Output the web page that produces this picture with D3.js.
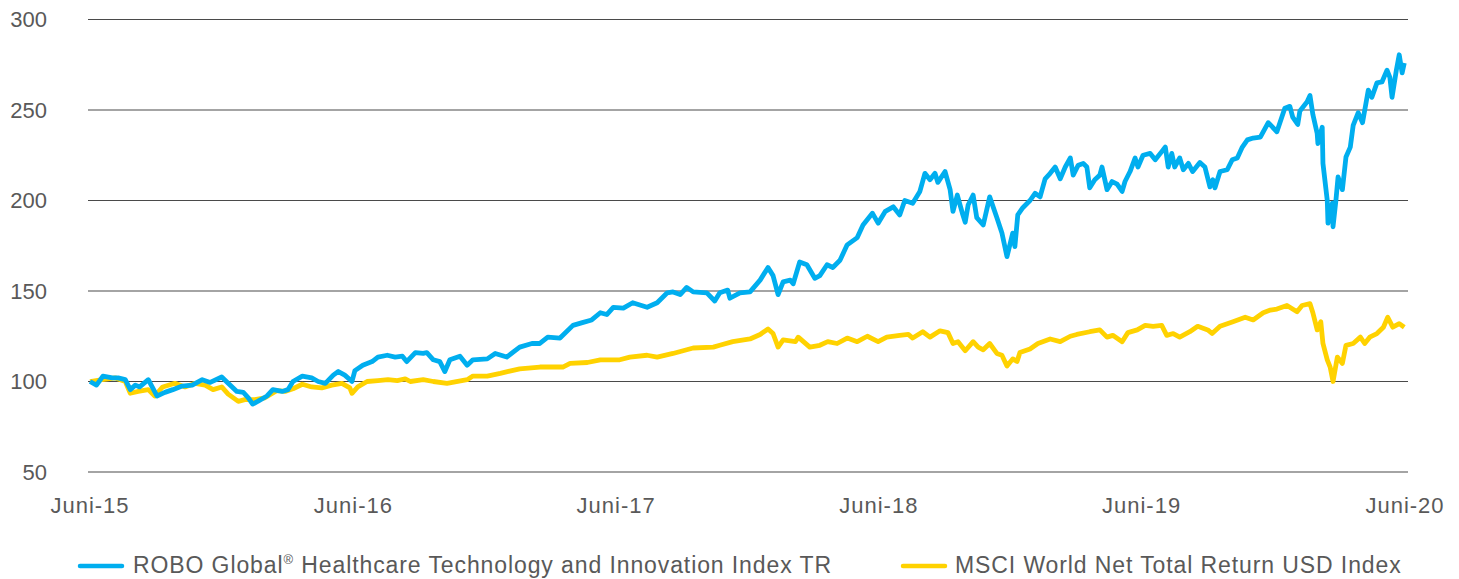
<!DOCTYPE html>
<html><head><meta charset="utf-8">
<script src="https://cdn.jsdelivr.net/npm/d3@7"></script>
<style>
html,body{margin:0;padding:0;background:#fff;}
svg{display:block;font-family:"Liberation Sans",Arial,sans-serif;}
</style></head><body>
<svg id="chart" width="1459" height="579"></svg>
<script>
// Days since 2015-06-01 and index values (start = 100)
const roboDays = [0,9,18,31,39,49,56,63,69,81,93,104,115,128,142,156,167,183,192,204,213,220,226,233,246,254,267,275,282,295,308,317,327,338,345,354,364,368,379,392,400,413,424,434,440,452,463,
468,477,486,493,500,514,524,532,552,563,579,597,614,625,636,653,671,684,697,709,718,727,741,754,774,788,802,810,820,829,838,857,868,875,886,889,903,917,931,942,949,956,963,973,977,986,996,1007,1014,1024,1032,1042,1052,1066,1074,1087,1095,1105,1116,1125,1132,1143,1153,1160,1167,1174,1178,1188,1195,1199,1205,1212,1216,1220,1227,1232,1241,1250,1260,1267,1274,1282,1285,1289,1296,1306,1313,1320,1327,1334,1341,1348,1355,1362,1366,1373,1380,1385,1389,1396,1403,1406,1413,1420,1427,1434,1438,1445,1452,1456,1463,1473,1480,1489,1494,1498,1503,1507,1514,1519,1526,1532,1542,1549,1556,1560,1563,1570,1580,1587,1594,1601,1608,1616,1626,1637,1649,1660,1667,1671,1678,1681,1691,1695,1699,1705,1706,1712,1713,1719,1720,1726,1727,1731,1734,1740,1745,1751,1755,1762,1768,1776,1781,1788,1795,1802,1806,1809,1815,1819,1823,1826];
const roboValues = [100,98,103,102,102,101,95.5,98,97,101,92,94,95.5,97.5,98,101,99.5,102.5,99,94.5,94,91,87.5,89,92,95.5,94.5,95.5,100,103,102,100,99,103.5,105.5,103.5,100,106,109,111,113.5,114.5,113.5,114,111,116,115.5,
116,112,111,105.5,112,114,109,112,112.5,115.5,113.5,119,121,121,124.5,124,131,132.5,134,138,137,141,140.5,143.5,141,143.5,149,149.5,148,152,149.5,149,144.5,149,150.5,146,149,149.5,156,163,158.5,148,155,156,154,166,164.5,157,158.5,164.5,163,167,175.5,179.5,186.5,193,187.5,194,196.5,192,200,198.5,205,215,211.5,215,210,216,206,194,203,193,188,197.5,203,190.5,186.5,202,190.5,182,169,182,174.5,192,196,200,204,202,212,215,218.5,212,218.5,223.5,214,219.5,220.5,218.5,207,211.5,214,218.5,206,210.5,209,205,210.5,216,223.5,218.5,225,226,222.5,227,229.5,218.5,226,218.5,223.5,217,220.5,216,221,218.5,207.5,211.5,207,216,217,222.5,223.5,229.5,233.5,234.5,235,243,238,251,252,246,242,249.5,254.5,258,247.5,237,231.5,240.5,220.5,200,187.5,198.5,185.5,200,213,206,224,229.5,241.5,248.5,243,261,257,265,265.5,272,268,257,272,280.5,270.5,276];

const msciDays = [0,17,35,49,56,67,81,90,101,118,132,146,160,171,183,192,206,215,229,243,260,271,282,295,308,322,336,350,361,364,372,385,400,414,427,438,445,463,
477,496,524,532,552,570,597,625,657,667,691,709,736,750,774,788,810,838,866,875,893,917,931,942,949,956,963,980,984,1000,1014,1025,1038,1052,
1066,1080,1095,1107,1125,1137,1143,1157,1167,1181,1192,1199,1206,1216,1227,1234,1241,1250,1260,1267,1274,1282,1288,1292,1306,1317,1334,1348,1362,1371,1389,1403,1413,1421,1434,1442,1455,1466,1477,1489,1496,1505,1514,1528,1539,1553,1559,1570,1588,1605,1616,1630,1640,
1649,1663,1677,1684,1695,1699,1705,1710,1713,1719,1723,1727,1733,1740,1745,1755,1765,1771,1778,1788,1797,1803,1810,1819,1826];
const msciValues = [100,101,102,100,93.5,94.5,95.5,92,97,99,97,99,98,95.5,97,93,89,90,90,91,95,94.5,96,98.5,97,96.5,98,99,96.5,93.5,97,100,100.5,101,100.5,101.5,100,101,
100,99,101,103,103,104.5,107,108,108,110,110.5,112,112,113.5,114.5,113.5,115.5,118.5,119,120,122,123.5,126,129,126.5,119,123,122,124.5,119,120,122,121,124,
122,125,122,124.5,125.5,126,124,127.5,124.5,128,127,121,122,117,122,119,117.5,121,115.5,114.5,108.5,112.5,111,116,118,121,123.5,122,125,126,127.5,128.5,124.5,125.5,122,127,128.5,131,130.5,131,125.5,126.5,124.5,127.5,130.5,128.5,126.5,130.5,133,135.5,134,138,139.5,
140,142,138.5,142,143,138,128.5,133,121,112,108,100,113.5,110,120,121,124.5,121,124.5,126.5,130,135.5,130,132,130];

const yTicks = [50,100,150,200,250,300];
const xTickYears = [2015,2016,2017,2018,2019,2020];
const xTickLabels = ["Juni-15","Juni-16","Juni-17","Juni-18","Juni-19","Juni-20"];
const seriesNames = ["ROBO Global","MSCI World Net Total Return USD Index"];
const colors = ["#00AEEF","#FFD200"];

const start = new Date(2015,5,1);
const toDate = d => d3.timeDay.offset(start, d);
const robo = roboDays.map((d,i)=>({date:toDate(d), v:roboValues[i]}));
const msci = msciDays.map((d,i)=>({date:toDate(d), v:msciValues[i]}));

const svg = d3.select("#chart");
const x = d3.scaleTime().domain([start, new Date(2020,5,1)]).range([90,1405]);
const y = d3.scaleLinear().domain([50,300]).range([472,19.5]);
const textColor = "#595959";

// grid
svg.append("g").selectAll("line").data(yTicks).join("line")
  .attr("x1",88).attr("x2",1408)
  .attr("y1",d=>y(d)).attr("y2",d=>y(d))
  .attr("stroke","#4a4a4a").attr("stroke-width",1.2);

// y labels
svg.append("g").selectAll("text").data(yTicks).join("text")
  .attr("x",47).attr("y",d=>y(d)).attr("dy","0.35em")
  .attr("text-anchor","end").attr("fill",textColor)
  .attr("font-size",22).text(d=>d);

// x labels
svg.append("g").selectAll("text").data(xTickYears).join("text")
  .attr("x",(d)=>x(new Date(d,5,1))).attr("y",513)
  .attr("text-anchor","middle").attr("fill",textColor)
  .attr("font-size",22).attr("letter-spacing","1px")
  .text((d,i)=>xTickLabels[i]);

const line = d3.line().x(d=>x(d.date)).y(d=>y(d.v)).curve(d3.curveLinear);
svg.append("path").datum(msci).attr("d",line).attr("fill","none")
  .attr("stroke",colors[1]).attr("stroke-width",4.8).attr("stroke-linejoin","round");
svg.append("path").datum(robo).attr("d",line).attr("fill","none")
  .attr("stroke",colors[0]).attr("stroke-width",4.8).attr("stroke-linejoin","round");

// legend
const lg = svg.append("g");
lg.append("line").attr("x1",80).attr("x2",122).attr("y1",566).attr("y2",566)
  .attr("stroke",colors[0]).attr("stroke-width",4.5).attr("stroke-linecap","round");
const t1 = lg.append("text").attr("x",133).attr("y",573).attr("fill",textColor)
  .attr("font-size",23).attr("letter-spacing","0.9px");
t1.append("tspan").text(seriesNames[0]);
t1.append("tspan").attr("font-size",13).attr("dy",-9).text("®");
t1.append("tspan").attr("dy",9).text(" Healthcare Technology and Innovation Index TR");
lg.append("line").attr("x1",903).attr("x2",945).attr("y1",566).attr("y2",566)
  .attr("stroke",colors[1]).attr("stroke-width",4.5).attr("stroke-linecap","round");
lg.append("text").attr("x",955).attr("y",573).attr("fill",textColor)
  .attr("font-size",23).attr("letter-spacing","0.9px")
  .text(seriesNames[1]);
</script>
</body></html>
